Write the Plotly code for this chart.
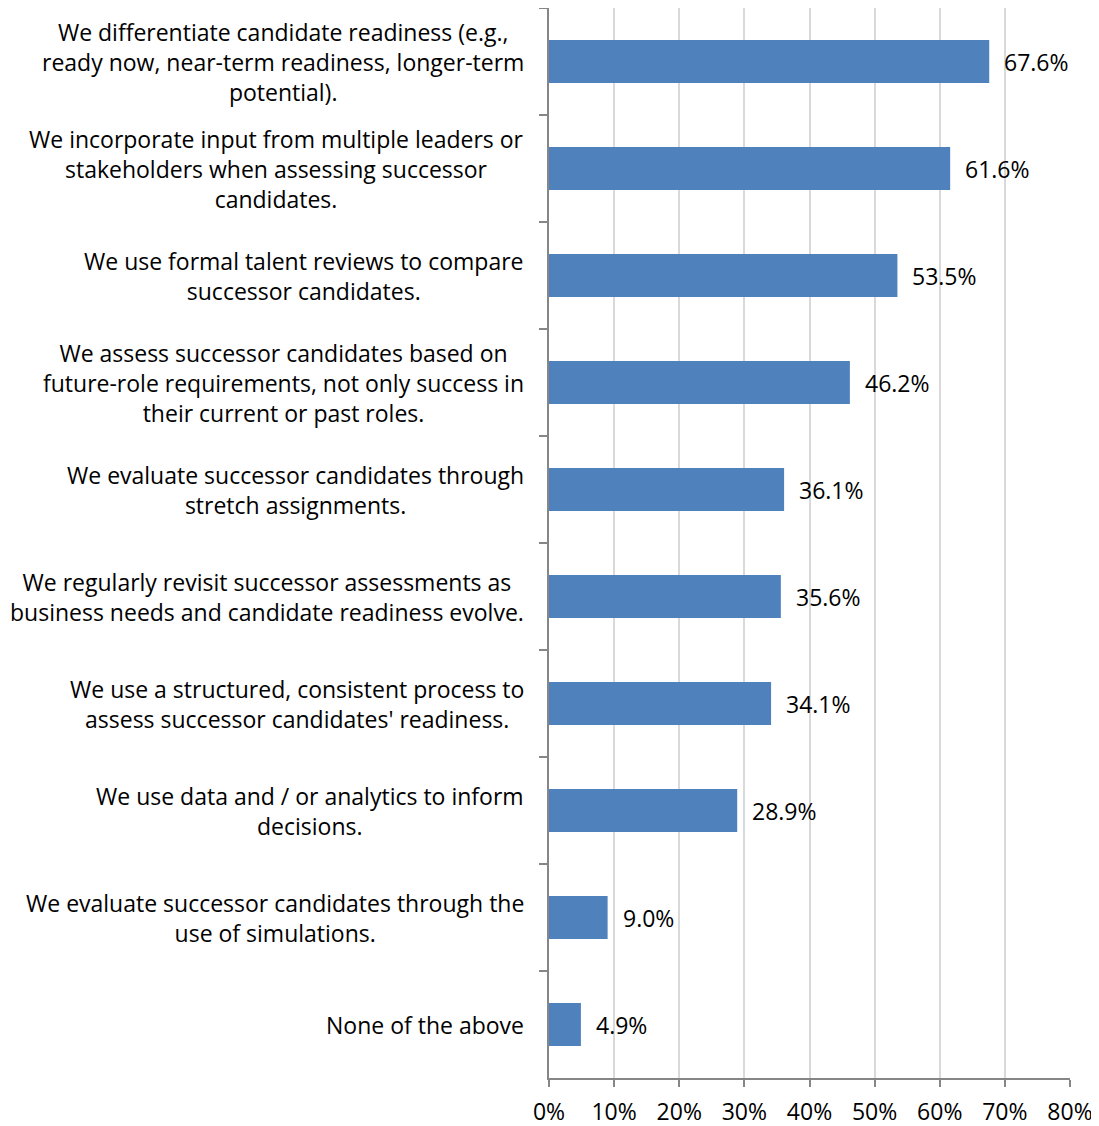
import plotly.graph_objects as go

categories = [
    "We differentiate candidate readiness (e.g.,<br>ready now, near-term readiness, longer-term<br>potential).",
    "We incorporate input from multiple leaders or<br>stakeholders when assessing successor<br>candidates.",
    "We use formal talent reviews to compare<br>successor candidates.",
    "We assess successor candidates based on<br>future-role requirements, not only success in<br>their current or past roles.",
    "We evaluate successor candidates through<br>stretch assignments.",
    "We regularly revisit successor assessments as<br>business needs and candidate readiness evolve.",
    "We use a structured, consistent process to<br>assess successor candidates' readiness.",
    "We use data and / or analytics to inform<br>decisions.",
    "We evaluate successor candidates through the<br>use of simulations.",
    "None of the above",
]
values = [67.6, 61.6, 53.5, 46.2, 36.1, 35.6, 34.1, 28.9, 9.0, 4.9]

FONT = "Open Sans"
FS = 23
TXT = "#000000"

fig = go.Figure()
fig.add_trace(go.Bar(
    y=categories, x=values, orientation="h",
    marker=dict(color="#4f81bd", line=dict(width=0)),
    width=0.4, hoverinfo="skip",
))

annotations = []
for c, v in zip(categories, values):
    annotations.append(dict(
        x=0, xref="paper", y=c, yref="y", text=c, showarrow=False,
        xanchor="right", yanchor="middle", align="center", xshift=-23,
        font=dict(family=FONT, size=FS, color=TXT),
    ))
    annotations.append(dict(
        x=v, xref="x", y=c, yref="y", text=f"{v:.1f}%", showarrow=False,
        xanchor="left", yanchor="middle", xshift=13,
        font=dict(family=FONT, size=FS, color=TXT),
    ))

fig.update_layout(
    width=1091, height=1118,
    margin=dict(l=541, r=29, t=0, b=48),
    paper_bgcolor="white", plot_bgcolor="white",
    showlegend=False,
    annotations=annotations,
    font=dict(family=FONT, size=FS, color=TXT),
    xaxis=dict(
        range=[0, 80], dtick=10, tick0=0, ticksuffix="%",
        showgrid=True, gridcolor="#d9d9d9", gridwidth=1.5,
        showline=True, linecolor="#868686", linewidth=1.5,
        ticks="outside", ticklen=7, tickcolor="#868686", tickwidth=1.5,
        ticklabelstandoff=6,
        zeroline=False, fixedrange=True,
        tickfont=dict(family=FONT, size=FS, color=TXT),
    ),
    yaxis=dict(
        autorange="reversed", type="category",
        showticklabels=False, tickson="boundaries",
        ticks="outside", ticklen=8, tickcolor="#868686", tickwidth=1.5,
        showline=True, linecolor="#868686", linewidth=1.5,
        showgrid=False, zeroline=False, fixedrange=True,
    ),
)

fig.write_html("out.html")
